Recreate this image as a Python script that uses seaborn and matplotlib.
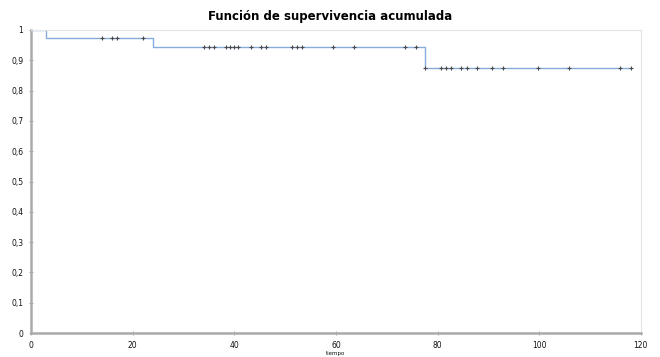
import numpy as np
import pandas as pd
import seaborn as sns
import matplotlib
matplotlib.use("Agg")
import matplotlib.pyplot as plt
from matplotlib.ticker import FuncFormatter

# Kaplan-Meier steps (time of drop, survival after drop)
step_times = [0, 3, 24, 77.6, 118]
step_surv = [1.0, 0.972, 0.944, 0.875, 0.875]

# censored observations (time)
censored = [14, 16, 17, 22,
            34, 35, 36, 38.4, 39.2, 40, 40.7, 43.2, 45.2, 46.2, 51.4, 52.4, 53.4,
            59.5, 63.5, 73.6, 75.7,
            77.6, 80.7, 81.6, 82.6, 84.7, 85.7, 87.8, 90.8, 92.8, 99.8,
            105.9, 115.9, 118]

title = "Función de supervivencia acumulada"
xlabel = "tiempo"

sns.set_style("white")
plt.rcParams['font.family'] = ['DejaVu Sans']

steps = pd.DataFrame({"t": step_times, "s": step_surv})
idx = np.searchsorted(step_times, censored, side="right") - 1
cens = pd.DataFrame({"t": censored, "s": np.array(step_surv)[idx]})

fig = plt.figure(figsize=(6.6, 3.57), dpi=100)
ax = fig.add_axes([0.047, 0.067, 0.924, 0.849])

sns.lineplot(data=steps, x="t", y="s", drawstyle="steps-post",
             color="#86acdc", linewidth=1.0, ax=ax)
sns.scatterplot(data=cens, x="t", y="s", marker="+", color="#4a4a4a",
                s=10, linewidth=0.8, ax=ax, zorder=3)

ax.set_xlim(0, 120)
ax.set_ylim(0, 1)
ax.set_xticks(range(0, 121, 20))
ax.set_yticks(np.arange(0, 1.01, 0.1))
fmt = FuncFormatter(lambda v, p: ("%g" % round(v, 1)).replace(".", ","))
ax.yaxis.set_major_formatter(fmt)
ax.xaxis.set_major_formatter(fmt)
ax.tick_params(axis="both", labelsize=5.5, length=3, width=0.6,
               color="#999999", labelcolor="#111111", direction="inout", pad=4)
ax.tick_params(axis="both", bottom=True, left=True)

for side in ["left", "bottom"]:
    ax.spines[side].set_color("#aaaaaa")
    ax.spines[side].set_linewidth(1.8)
for side in ["top", "right"]:
    ax.spines[side].set_color("#e4e4e4")
    ax.spines[side].set_linewidth(0.8)

ax.set_xlabel(xlabel, fontsize=4, labelpad=1, color="#111111")
ax.set_ylabel("")
fig.text(0.5, 0.955, title, ha="center", va="center",
         fontsize=8.5, fontweight="bold", color="black")

fig.savefig("out.png", dpi=100)
